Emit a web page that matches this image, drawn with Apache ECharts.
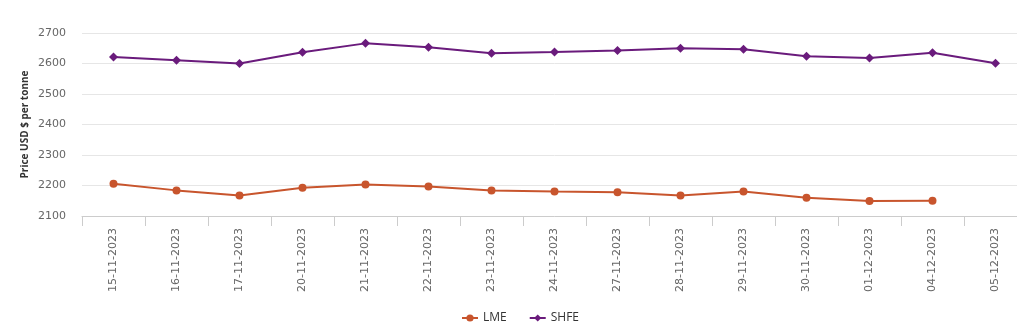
<!DOCTYPE html>
<html><head><meta charset="utf-8">
<script src="https://cdn.jsdelivr.net/npm/echarts@6/dist/echarts.min.js"></script>
<style>html,body{margin:0;padding:0;background:#fff;overflow:hidden}#c{width:1027px;height:332px}</style>
</head><body><div id="c"></div>
<script>
const categories = ["15-11-2023","16-11-2023","17-11-2023","20-11-2023","21-11-2023","22-11-2023","23-11-2023","24-11-2023","27-11-2023","28-11-2023","29-11-2023","30-11-2023","01-12-2023","04-12-2023","05-12-2023"];
const lme = [2206,2184,2167,2193,2203,2197,2184,2180,2178,2167,2180,2160,2149,2150,null];
const shfe = [2621,2611,2600,2637,2666,2653,2634,2638,2643,2650,2647,2624,2618,2635,2601];
const yTicks = {min:2100, max:2700, interval:100};

const chart = echarts.init(document.getElementById('c'), null, {renderer:'canvas'});
chart.setOption({
  animation:false,
  grid:{left:82, top:33, right:0, height:183},
  legend:{
    bottom:3, left:456, itemGap:22, itemWidth:16, itemHeight:9,
    textStyle:{color:'#333', fontSize:12, fontFamily:'Open Sans, sans-serif'},
    data:['LME','SHFE']
  },
  xAxis:{
    type:'category', data:categories, boundaryGap:true,
    axisLine:{lineStyle:{color:'#cccccc'}},
    axisTick:{show:true, length:10, lineStyle:{color:'#cccccc'}},
    axisLabel:{rotate:90, color:'#666', fontSize:11, margin:12, fontFamily:'DejaVu Sans, sans-serif', interval:0}
  },
  yAxis:{
    type:'value', min:yTicks.min, max:yTicks.max, interval:yTicks.interval,
    name:'Price USD $ per tonne', nameLocation:'middle', nameGap:52, nameRotate:90,
    nameMoveOverlap:false,
    nameTextStyle:{fontWeight:'bold', fontSize:10, color:'#333', fontFamily:'Open Sans, sans-serif'},
    axisLine:{show:false}, axisTick:{show:false},
    axisLabel:{color:'#666', fontSize:11, margin:16, fontFamily:'DejaVu Sans, sans-serif', formatter:function(v){return String(v);}},
    splitLine:{lineStyle:{color:'#e6e6e6'}}
  },
  series:[
    {name:'LME', type:'line', data:lme, color:'#c8552d', symbol:'circle', symbolSize:8,
     lineStyle:{width:2}, itemStyle:{color:'#c8552d'}},
    {name:'SHFE', type:'line', data:shfe, color:'#6a1b7c', symbol:'diamond', symbolSize:9,
     lineStyle:{width:2}, itemStyle:{color:'#6a1b7c'}}
  ]
});
</script></body></html>
